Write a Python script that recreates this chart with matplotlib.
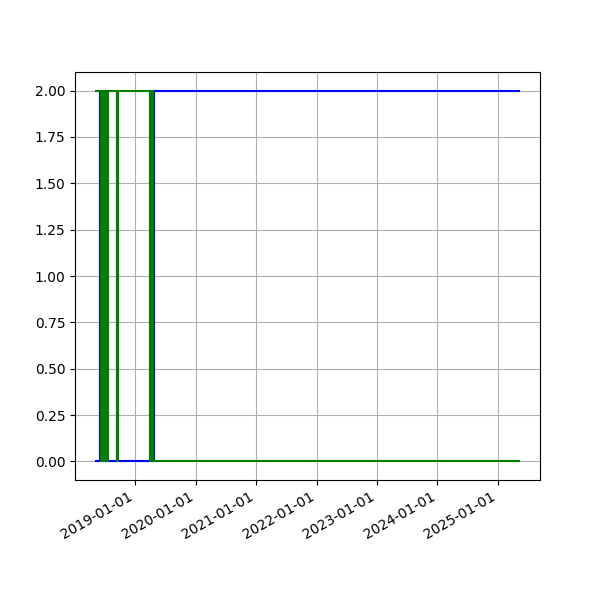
import numpy as np
import pandas as pd
import matplotlib
matplotlib.use("Agg")
import matplotlib.pyplot as plt
import matplotlib.dates as mdates

# change dates and state of the two series (steps)
blue_dates = pd.to_datetime([
    "2018-05-09", "2018-06-01", "2018-06-12", "2018-06-22", "2018-07-02",
    "2018-07-09", "2018-07-17", "2018-09-14", "2018-09-21", "2019-03-29",
    "2019-04-07", "2019-04-22", "2025-05-07",
])
blue_vals = [0, 2, 0, 2, 0, 2, 0, 2, 0, 2, 0, 2, 2]

green_dates = pd.to_datetime([
    "2018-05-09", "2018-06-05", "2018-06-11", "2018-06-19", "2018-06-27",
    "2018-07-05", "2018-07-17", "2018-09-14", "2018-09-21", "2019-03-29",
    "2019-04-05", "2019-04-17", "2025-05-07",
])
green_vals = [2, 0, 2, 0, 2, 0, 2, 0, 2, 0, 2, 0, 0]

fig, ax = plt.subplots(figsize=(6, 6), dpi=100)

ax.plot(blue_dates, blue_vals, color="blue", drawstyle="steps-post", linewidth=1.5)
ax.plot(green_dates, green_vals, color="green", drawstyle="steps-post", linewidth=1.5)

ax.xaxis.set_major_locator(mdates.YearLocator())
ax.xaxis.set_major_formatter(mdates.DateFormatter("%Y-%m-%d"))
ax.grid(True)
fig.autofmt_xdate()

plt.savefig("out.png")
